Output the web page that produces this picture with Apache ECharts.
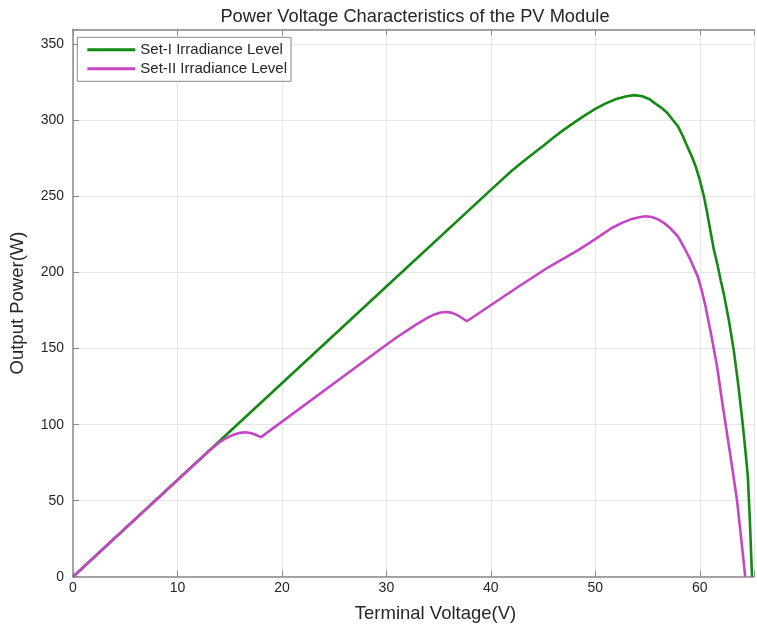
<!DOCTYPE html>
<html><head><meta charset="utf-8">
<script src="https://cdn.jsdelivr.net/npm/echarts@6/dist/echarts.min.js"></script>
<style>html,body{margin:0;padding:0;background:#fff;overflow:hidden}#c{width:757px;height:631px}</style>
</head><body><div id="c"></div>
<script>
const titleText = 'Power Voltage Characteristics of the PV Module';
const xName = 'Terminal Voltage(V)';
const yName = 'Output Power(W)';
const seriesNames = ['Set-I Irradiance Level', 'Set-II Irradiance Level'];

const set1V = [0, 10, 20, 30, 40, 42, 43, 44, 45, 46, 47, 48, 49, 50, 51, 52, 53, 53.75, 54.5, 55.2, 55.65, 56.3, 56.9, 57.4, 57.9, 58.4, 58.8, 59.2, 59.6, 60.0, 60.4, 60.7, 61.0, 61.35, 61.7, 62.0, 62.3, 62.8, 63.25, 63.65, 64.04, 64.35, 64.6, 64.8, 65.0];
const set1P = [0, 63.6, 127.2, 190.8, 254.4, 267, 272.5, 278, 283.3, 288.8, 294, 298.8, 303.4, 307.6, 311.3, 314.2, 316, 316.7, 316, 314, 311.6, 308.5, 305, 300.5, 296.3, 289.5, 283, 277, 270, 261, 250, 239.5, 228, 215, 205, 195, 186, 168, 149, 128, 105, 84, 66, 36, 0];

const set2V = [0, 12, 12.9, 13.5, 14, 14.5, 15, 15.5, 16, 16.5, 17, 17.5, 18, 30, 31, 32, 33, 34, 34.6, 35.2, 35.8, 36.3, 36.8, 37.2, 37.7, 42.7, 45.5, 48.4, 50, 51.5, 52.5, 53.5, 54.3, 54.85, 55.4, 56, 56.6, 57.2, 57.9, 58.5, 59.1, 59.8, 60.2, 60.55, 61.1, 61.66, 62.1, 62.6, 63.1, 63.56, 63.95, 64.35];
const set2P = [0, 76.3, 82, 85.5, 88.3, 90.5, 92.3, 93.7, 94.6, 95, 94.5, 93.3, 91.8, 152.5, 157.5, 162, 166.5, 170.5, 172.5, 173.8, 174.1, 173.5, 172, 170.3, 168, 191, 203.5, 215, 222, 229, 232.5, 235.3, 236.6, 237, 236.6, 235, 232.6, 229, 223.8, 216.5, 208.5, 197.5, 188, 177.7, 159, 138, 117, 94.4, 72, 50.5, 26, 0];

const xTicks = [0, 10, 20, 30, 40, 50, 60];
const yTicks = [0, 50, 100, 150, 200, 250, 300, 350];

const pair = (a, b) => a.map((v, i) => [v, b[i]]);
const axisCol = '#8a8a8a';
const txtCol = '#262626';
const font = 'Liberation Sans, Arial, sans-serif';

const chart = echarts.init(document.getElementById('c'));
chart.setOption({
  animation: false,
  backgroundColor: '#fff',
  title: {
    text: titleText, left: 410, textAlign: 'center', top: 3,
    textStyle: { fontFamily: font, fontSize: 18.3, fontWeight: 'normal', color: txtCol }
  },
  grid: { left: 70.7, right: 0, top: 29.3, bottom: 54.3, containLabel: false },
  legend: {
    orient: 'vertical', left: 77.3, top: 37.3,
    backgroundColor: '#fff', borderColor: '#888', borderWidth: 1,
    padding: [3, 4, 3, 10], itemGap: 0,
    itemWidth: 48, itemHeight: 3, icon: 'rect',
    textStyle: { fontFamily: font, fontSize: 15, lineHeight: 19, color: txtCol },
    data: seriesNames
  },
  xAxis: [{
    type: 'value', min: 0, max: 65.19, interval: 10,
    name: xName, nameLocation: 'middle', nameGap: 28,
    nameTextStyle: { fontFamily: font, fontSize: 18.5, color: txtCol, padding: [0, 0, 0, 44] },
    axisLine: { show: true, lineStyle: { color: axisCol, width: 1.5 } },
    axisTick: { show: true, inside: true, length: 6, lineStyle: { color: axisCol } },
    axisLabel: { fontFamily: font, fontSize: 14, color: txtCol, margin: 4,
      formatter: v => xTicks.includes(v) ? String(v) : '' },
    splitLine: { show: true, lineStyle: { color: '#e6e6e6', width: 1 } }
  }, {
    type: 'value', min: 0, max: 65.19, interval: 10, position: 'top',
    axisLine: { show: true, lineStyle: { color: axisCol, width: 1.5 } },
    axisTick: { show: true, inside: true, length: 6, lineStyle: { color: axisCol } },
    axisLabel: { show: false }, splitLine: { show: false }
  }],
  yAxis: {
    type: 'value', min: 0, max: 360, interval: 50,
    name: yName, nameLocation: 'middle', nameGap: 46,
    nameTextStyle: { fontFamily: font, fontSize: 18.5, color: txtCol },
    axisLine: { show: true, lineStyle: { color: axisCol, width: 1.5 } },
    axisTick: { show: true, inside: true, length: 6, lineStyle: { color: axisCol } },
    axisLabel: { fontFamily: font, fontSize: 14, color: txtCol, margin: 9,
      formatter: v => yTicks.includes(v) ? String(v) : '' },
    splitLine: { show: true, lineStyle: { color: '#e6e6e6', width: 1 } }
  },
  series: [{
    name: seriesNames[0], type: 'line', data: pair(set1V, set1P),
    showSymbol: false, smooth: false, clip: true,
    lineStyle: { color: '#138a13', width: 2.6 }, itemStyle: { color: '#138a13' }
  }, {
    name: seriesNames[1], type: 'line', data: pair(set2V, set2P),
    showSymbol: false, smooth: false, clip: true,
    lineStyle: { color: '#c446c4', width: 2.6 }, itemStyle: { color: '#c446c4' }
  }]
});
</script></body></html>
